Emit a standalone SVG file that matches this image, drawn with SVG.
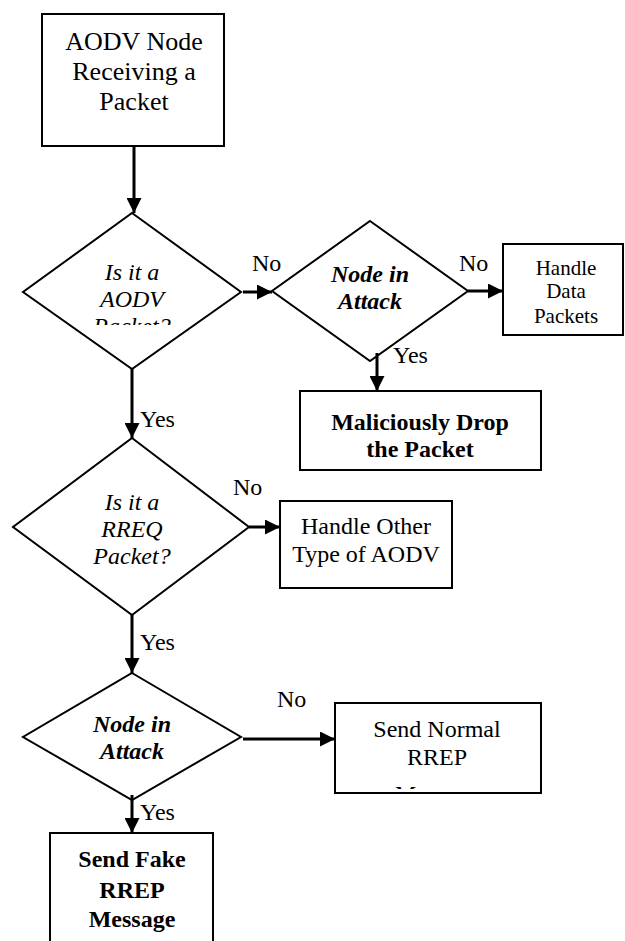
<svg xmlns="http://www.w3.org/2000/svg" width="625" height="941" viewBox="0 0 625 941" font-family="Liberation Serif, Times New Roman, DejaVu Serif, serif" font-size="24">
<style>
.s{fill:#fff;stroke:#000;stroke-width:2}
.t{text-anchor:middle}
.i{font-style:italic}
.b{font-weight:bold}
.c{stroke:#000;stroke-width:3;fill:none;marker-end:url(#ah)}
</style>
<defs>
<marker id="ah" viewBox="0 0 10 10" refX="10" refY="5" markerWidth="5" markerHeight="5" markerUnits="strokeWidth" orient="auto">
<path d="M0,0 L10,5 L0,10 z" fill="#000"/>
</marker>
<clipPath id="cp1"><rect x="0" y="0" width="625" height="325"/></clipPath>
<clipPath id="cp2"><rect x="0" y="0" width="625" height="789"/></clipPath>
</defs>
<g id="start">
<rect class="s" x="42" y="14" width="182" height="132"/>
<text class="t" x="134" y="50" font-size="26">AODV Node</text>
<text class="t" x="134" y="80" font-size="26">Receiving a</text>
<text class="t" x="134" y="110" font-size="26">Packet</text>
</g>
<g id="isAodv">
<polygon class="s" points="132,213 241,292 132,369 23,292"/>
<text class="t i" x="132" y="280">Is it a</text>
<text class="t i" x="132" y="307">AODV</text>
<text class="t i" x="132" y="334" clip-path="url(#cp1)">Packet?</text>
</g>
<g id="attack1">
<polygon class="s" points="370,221 468,291 370,361 272,291"/>
<text class="t i b" x="370" y="282">Node in</text>
<text class="t i b" x="370" y="309">Attack</text>
</g>
<g id="handleData">
<rect class="s" x="503" y="244" width="120" height="91"/>
<text class="t" x="566" y="275" font-size="21">Handle</text>
<text class="t" x="566" y="298" font-size="21">Data</text>
<text class="t" x="566" y="323" font-size="21">Packets</text>
</g>
<g id="drop">
<rect class="s" x="300" y="391" width="241" height="79"/>
<text class="t b" x="420" y="430">Maliciously Drop</text>
<text class="t b" x="420" y="457">the Packet</text>
</g>
<g id="isRreq">
<polygon class="s" points="132,438 249,527 132,615 13,527"/>
<text class="t i" x="132" y="510">Is it a</text>
<text class="t i" x="132" y="537">RREQ</text>
<text class="t i" x="132" y="564">Packet?</text>
</g>
<g id="handleOther">
<rect class="s" x="280" y="501" width="172" height="87"/>
<text class="t" x="366" y="534">Handle Other</text>
<text class="t" x="366" y="562">Type of AODV</text>
</g>
<g id="attack2">
<polygon class="s" points="132,673 241,737 132,800 23,737"/>
<text class="t i b" x="132" y="732">Node in</text>
<text class="t i b" x="132" y="759">Attack</text>
</g>
<g id="sendNormal">
<rect class="s" x="335" y="703" width="206" height="90"/>
<text class="t" x="437" y="737">Send Normal</text>
<text class="t" x="437" y="765">RREP</text>
<text class="t" x="437" y="802" clip-path="url(#cp2)">Message</text>
</g>
<g id="sendFake">
<rect class="s" x="50" y="833" width="163" height="120"/>
<text class="t b" x="132" y="867">Send Fake</text>
<text class="t b" x="132" y="898">RREP</text>
<text class="t b" x="132" y="927">Message</text>
</g>
<g id="connectors">
<line class="c" x1="134" y1="146" x2="134" y2="213"/>
<line class="c" x1="243" y1="292" x2="272" y2="292"/>
<line class="c" x1="468" y1="291" x2="503" y2="291"/>
<line class="c" x1="377" y1="353" x2="377" y2="391"/>
<line class="c" x1="132" y1="369" x2="132" y2="438"/>
<line class="c" x1="249" y1="527" x2="280" y2="527"/>
<line class="c" x1="132" y1="615" x2="132" y2="673"/>
<line class="c" x1="243" y1="739" x2="335" y2="739"/>
<line class="c" x1="132" y1="795" x2="132" y2="833"/>
<text x="252" y="271">No</text>
<text x="459" y="271">No</text>
<text x="393" y="363">Yes</text>
<text x="140" y="427">Yes</text>
<text x="233" y="495">No</text>
<text x="140" y="650">Yes</text>
<text x="277" y="707">No</text>
<text x="140" y="820">Yes</text>
</g>
</svg>
